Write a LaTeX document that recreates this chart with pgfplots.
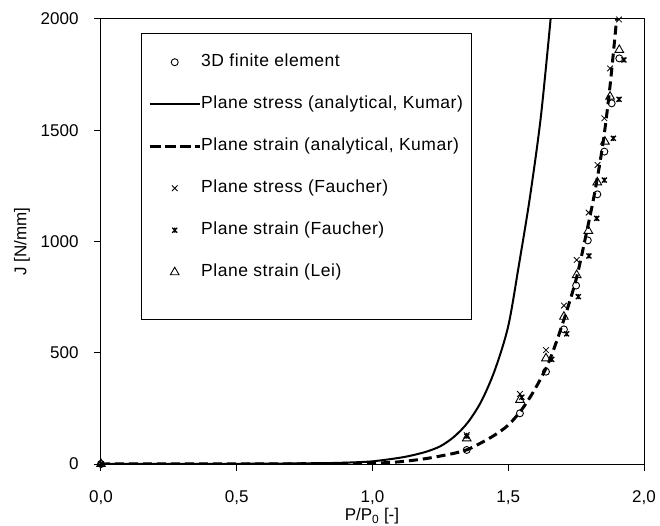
\documentclass[border=0pt]{standalone}
\usepackage{fontspec}
\setmainfont{Liberation Sans}
\usepackage{pgfplots}
\pgfplotsset{compat=1.18}
\pgfdeclareplotmark{xstar}{%
  \pgfpathmoveto{\pgfqpoint{-\pgfplotmarksize}{-\pgfplotmarksize}}%
  \pgfpathlineto{\pgfqpoint{\pgfplotmarksize}{\pgfplotmarksize}}%
  \pgfpathmoveto{\pgfqpoint{-\pgfplotmarksize}{\pgfplotmarksize}}%
  \pgfpathlineto{\pgfqpoint{\pgfplotmarksize}{-\pgfplotmarksize}}%
  \pgfpathmoveto{\pgfqpoint{0pt}{-\pgfplotmarksize}}%
  \pgfpathlineto{\pgfqpoint{0pt}{\pgfplotmarksize}}%
  \pgfusepathqstroke}
\newcommand{\chfont}{\fontsize{17bp}{20bp}\selectfont}
\newcommand{\lgfont}{\fontsize{17.5bp}{20bp}\selectfont\addfontfeature{LetterSpace=3}}
\begin{document}
\begin{tikzpicture}
\path[use as bounding box] (-101bp,-62bp) rectangle (559bp,464bp);
\begin{axis}[
  at={(0,0)}, anchor=south west,
  scale only axis, width=543bp, height=445bp,
  xmin=0, xmax=2, ymin=0, ymax=2000,
  xtick={0,0.5,1,1.5,2}, ytick={0,500,1000,1500,2000},
  tick align=outside, tick pos=left,
  major tick length=7bp,
  axis line style={line width=1bp},
  major tick style={black, line width=1bp},
  tick label style={font=\chfont},
  /pgf/number format/assume math mode=true,
  xticklabel style={yshift=-16bp, /pgf/number format/.cd, fixed, fixed zerofill, precision=1, use comma},
  yticklabel style={xshift=-12bp, /pgf/number format/.cd, fixed, 1000 sep={}},
  label style={font=\chfont},
  xlabel={P/P\textsubscript{0} [-]}, ylabel={J [N/mm]},
  xlabel style={at={(axis description cs:0.499,-0.117)}, anchor=center},
  ylabel style={at={(axis description cs:-0.1455,0.5)}, anchor=center},
  clip mode=individual,
  legend style={at={(axis description cs:0.0866,0.9213)}, anchor=north west,
    draw=none, fill=none, inner sep=0pt, font=\lgfont, row sep=26bp,
    nodes={inner sep=0pt, text height=12bp, text depth=4bp},
    /tikz/every even column/.append style={column sep=5bp}},
  legend cell align=left,
  legend image code/.code={\draw[mark repeat=2,mark phase=2,#1] plot coordinates {(0bp,0bp) (25bp,0bp) (50bp,0bp)};},
]
\fill[white] (axis description cs:0.0755,0.3258) rectangle (axis description cs:0.6814,0.9663);
\draw[black, line width=1bp] (axis description cs:0.0755,0.3258) rectangle (axis description cs:0.6814,0.9663);

\addlegendimage{only marks, mark=o, mark size=3.5bp, mark options={fill=white, line width=0.9bp}}
\addlegendentry{3D finite element}
\addlegendimage{line width=2bp}
\addlegendentry{Plane stress (analytical, Kumar)}
\addlegendimage{line width=3bp, dash pattern=on 11bp off 4bp}
\addlegendentry{Plane strain (analytical, Kumar)}
\addlegendimage{only marks, mark=x, mark size=4bp, mark options={line width=0.8bp}}
\addlegendentry{Plane stress (Faucher)}
\addlegendimage{only marks, mark=xstar, mark size=2.5bp, mark options={line width=1.3bp}}
\addlegendentry{Plane strain (Faucher)}
\addlegendimage{only marks, mark=triangle, mark size=5bp, mark options={line width=0.9bp}}
\addlegendentry{Plane strain (Lei)}

% Plane stress (analytical, Kumar)
\addplot[forget plot, black, line width=2bp, smooth] coordinates {
(0,0) (0.2,0.2) (0.4,0.6) (0.6,1.5) (0.8,3.5) (0.9,6) (1.0,12) (1.1,28) (1.15,40)
(1.2,56) (1.25,80) (1.3,122) (1.35,185) (1.4,280) (1.45,420) (1.5,620) (1.54,900)
(1.58,1200) (1.62,1560) (1.656,2000)};
% Plane strain (analytical, Kumar)
\addplot[forget plot, black, line width=3bp, dash pattern=on 9bp off 5bp, smooth] coordinates {
(0,0) (0.5,0.3) (0.8,1.5) (1.0,4) (1.1,10) (1.2,25) (1.3,48) (1.35,65) (1.4,95)
(1.45,130) (1.5,175) (1.55,245) (1.6,340) (1.65,460) (1.7,630) (1.75,830)
(1.79,1050) (1.82,1230) (1.85,1450) (1.875,1700) (1.9,2010)};
% 3D finite element
\addplot[forget plot, only marks, mark=o, mark size=3.5bp, mark options={fill=white, line width=0.9bp}] coordinates {
(0,0) (1.347,63) (1.543,228) (1.639,415) (1.705,605) (1.750,802) (1.793,1005)
(1.828,1212) (1.854,1404) (1.881,1621) (1.909,1823)};
% Plane stress (Faucher)
\addplot[forget plot, only marks, mark=x, mark size=4bp, mark options={line width=0.8bp}] coordinates {
(0,0) (1.347,130) (1.543,315) (1.639,512) (1.705,712) (1.752,917) (1.796,1130)
(1.829,1344) (1.854,1554) (1.875,1778) (1.908,1998)};
% Plane strain (Faucher)
\addplot[forget plot, only marks, mark=xstar, mark size=2.5bp, mark options={line width=1.3bp}] coordinates {
(0,0) (1.347,125) (1.55,300) (1.66,470) (1.715,585) (1.758,752) (1.797,935)
(1.826,1104) (1.854,1276) (1.887,1464) (1.908,1639) (1.926,1816) (1.942,2003)};
% Plane strain (Lei)
\addplot[forget plot, only marks, mark=triangle, mark size=5bp, mark options={line width=0.9bp}] coordinates {
(0,0) (1.347,115) (1.543,288) (1.639,475) (1.705,662) (1.752,849) (1.795,1048)
(1.828,1266) (1.856,1449) (1.875,1651) (1.909,1861)};
\end{axis}
\end{tikzpicture}
\end{document}
